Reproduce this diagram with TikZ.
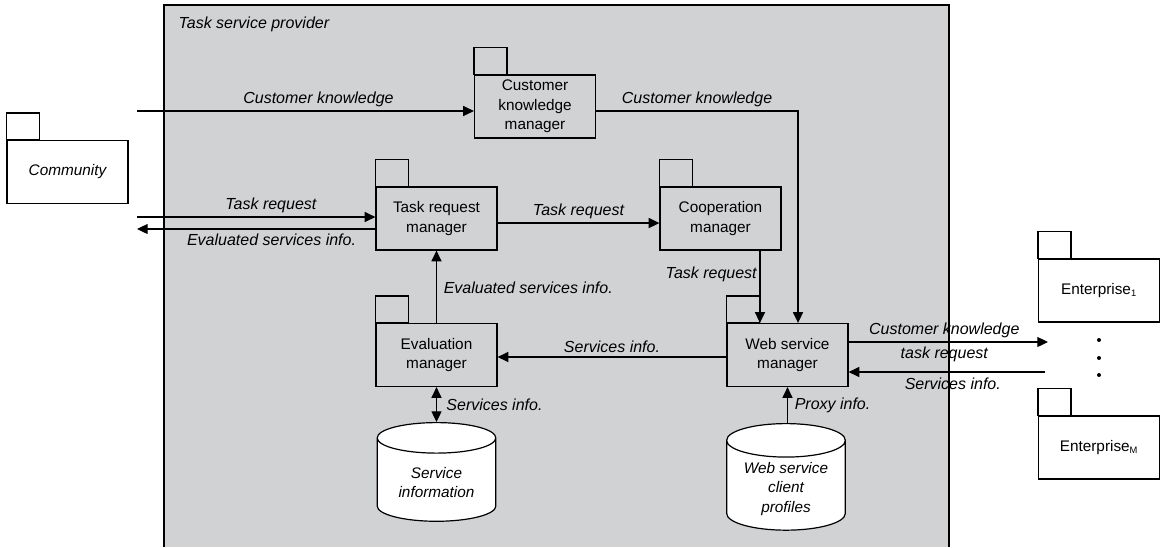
\documentclass[tikz,border=0pt]{standalone}
\usepackage{fontspec}
\setmainfont{Liberation Sans}
\usetikzlibrary{arrows.meta,positioning,calc,shapes.geometric}
\definecolor{provgray}{RGB}{209,210,212}

\begin{document}
\begin{tikzpicture}[
  x=0.75pt,y=-0.75pt,
  font=\fontsize{11.5}{14.6}\selectfont,
  pkg/.style={draw,line width=0.9pt,fill=provgray,minimum width=90.75pt,minimum height=47.25pt,align=center,inner sep=1pt},
  extpkg/.style={pkg,fill=white},
  tab/.style={draw,line width=0.9pt},
  db/.style={cylinder,shape border rotate=90,aspect=0.36,draw,line width=0.9pt,fill=white,
    minimum width=89pt,minimum height=74pt,align=center,font=\fontsize{11.5}{14.6}\selectfont\itshape},
  flow/.style={line width=0.9pt,-{Triangle[length=8pt,width=7.5pt]}},
  lbl/.style={font=\fontsize{12}{14}\selectfont\itshape,inner sep=1pt},
  dot/.style={circle,fill=black,inner sep=0pt,minimum size=3pt}
]
\useasboundingbox (0,0) rectangle (1161,547);

% ---- provider area ----
\fill[provgray] (164,547) rectangle (949,5);
\draw[line width=0.9pt] (164,547) -- (164,5) -- (949,5) -- (949,547);
\node[lbl,anchor=west] (tsp) at (177,24) {Task service provider};

% ---- packages ----
\node[extpkg] (comm) at (67.5,172) {\itshape Community};
\node[pkg] (ckm) at (535,106.5) {Customer\\ knowledge\\ manager};
\node[pkg] (trm) at (436.5,218.5) {Task request\\ manager};
\node[pkg] (cm)  at (720.5,218.5) {Cooperation\\ manager};
\node[pkg] (em)  at (436.5,355) {Evaluation\\ manager};
\node[pkg] (wsm) at (787.5,355) {Web service\\ manager};
\node[extpkg] (ent1) at (1099,290.5) {Enterprise\textsubscript{\fontsize{7}{8}\selectfont 1}};
\node[extpkg] (entm) at (1099,447.5) {Enterprise\textsubscript{\fontsize{7}{8}\selectfont M}};

\foreach \n in {ckm,trm,cm,em,wsm}
  \draw[tab,fill=provgray] (\n.north west) rectangle ++(24.75pt,20.25pt);
\foreach \n in {comm,ent1,entm}
  \draw[tab,fill=white] (\n.north west) rectangle ++(24.75pt,20.25pt);

% ---- data stores ----
\node[db,anchor=north] (sinfo) at (436.5,422) {Service\\ information};
\node[db,anchor=north] (wscp)  at (786,423) {Web service\\ client\\ profiles};

% ---- free ends ----
\coordinate (ck0) at (137,111);
\coordinate (tr0) at (137,217);
\coordinate (ev0) at (137,229);
\coordinate (out0) at (1048,342);
\coordinate (in0) at (1045,372);

% ---- flows ----
\draw[flow] (ck0) -- (ck0 -| ckm.west)
  node[lbl,midway,above=2pt,xshift=9.75pt] (lck1) {Customer knowledge};
\draw[flow] (ckm.east |- ck0) -| ([xshift=7.9pt]wsm.north)
  node[lbl,pos=0.25,above=2pt] (lck2) {Customer knowledge};
\draw[flow] (tr0) -- (tr0 -| trm.west)
  node[lbl,midway,above=2pt,xshift=11pt] (ltr1) {Task request};
\draw[flow] (ev0 -| trm.west) -- (ev0)
  node[lbl,midway,below=2pt,xshift=11.5pt] (lev1) {Evaluated services info.};
\draw[flow] ([yshift=-3.4pt]trm.east) -- ([yshift=-3.4pt]cm.west)
  node[lbl,midway,above=2pt] (ltr2) {Task request};
\draw[flow] ([xshift=29.6pt]cm.south) -- ([xshift=29.6pt]cm.south |- wsm.north)
  node[lbl,pos=0.33,left=1pt] (ltr3) {Task request};
\draw[flow] (em.north) -- (trm.south)
  node[lbl,pos=0.48,right=4pt] (lev2) {Evaluated services info.};
\draw[flow] ([yshift=-1.5pt]wsm.west) -- ([yshift=-1.5pt]em.west -| em.east)
  node[lbl,midway,above=2pt] (lsi1) {Services info.};
\draw[flow,{Triangle[length=8pt,width=7.5pt]}-{Triangle[length=8pt,width=7.5pt]}] (em.south) -- (sinfo.north)
  node[lbl,midway,right=6pt] (lsi2) {Services info.};
\draw[flow] (wscp.north -| wsm.south) -- (wsm.south)
  node[lbl,midway,right=4pt] (lpx) {Proxy info.};
\draw[flow] (wsm.east |- out0) -- (out0)
  node[lbl,midway,above=2pt,xshift=-3pt] (lck3) {Customer knowledge}
  node[lbl,midway,below=2pt,xshift=-3pt] (ltr4) {task request};
\draw[flow] (in0) -- (in0 -| wsm.east)
  node[lbl,midway,below=3pt,xshift=4.5pt] (lsi3) {Services info.};

% ---- dots between enterprises ----
\foreach \y in {340,358,375}
  \node[dot] at (1099,\y) {};

\end{tikzpicture}
\end{document}
